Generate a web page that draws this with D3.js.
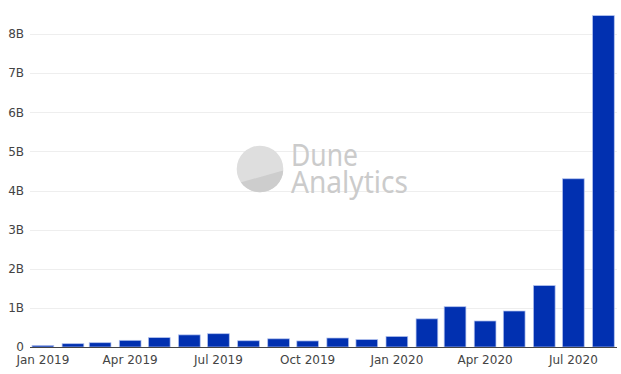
<!DOCTYPE html>
<html><head><meta charset="utf-8">
<script src="https://cdn.jsdelivr.net/npm/d3@7"></script>
<style>body{margin:0;background:#fff}svg{display:block}</style>
</head><body>
<svg id="c" width="621" height="374"></svg>
<script>
const months = ["2019-01","2019-02","2019-03","2019-04","2019-05","2019-06","2019-07","2019-08","2019-09","2019-10","2019-11","2019-12","2020-01","2020-02","2020-03","2020-04","2020-05","2020-06","2020-07","2020-08"];
const values = [0.04,0.085,0.11,0.17,0.24,0.31,0.34,0.16,0.21,0.155,0.23,0.19,0.27,0.72,1.03,0.665,0.92,1.57,4.3,8.47].map(v=>v*1e9);
const yTicks = [0,1e9,2e9,3e9,4e9,5e9,6e9,7e9,8e9];
const xTickLabels = ["2019-01","2019-04","2019-07","2019-10","2020-01","2020-04","2020-07"];

const svg = d3.select("#c");
const parse = d3.timeParse("%Y-%m");
const dates = months.map(parse);
const margin = {left:30, right:4, top:0, bottom:27};
const W = 621, H = 374;
const day = 864e5;
const x = d3.scaleTime()
  .domain([new Date(+dates[0] - 13.3*day), new Date(+dates[dates.length-1] + 14*day)])
  .range([margin.left, W - margin.right]);
const y = d3.scaleLinear().domain([0, 8e9]).range([347, 34]);
const barHalf = 0.8*28*day/2;
const font = "'DejaVu Sans', Verdana, sans-serif";
const wmFont = "'Noto Sans', 'Open Sans', sans-serif";

// grid
svg.append("g").selectAll("line").data(yTicks.filter(d=>d>0)).join("line")
  .attr("x1", margin.left).attr("x2", W - margin.right)
  .attr("y1", d=>Math.round(y(d))+0.5).attr("y2", d=>Math.round(y(d))+0.5)
  .attr("stroke", "#eeeeee").attr("stroke-width", 1);

// watermark
const wm = svg.append("g");
const cx = 260, cy = 169, r = 23.3;
wm.append("circle").attr("cx",cx).attr("cy",cy).attr("r",r).attr("fill","#dedede");
const clipId = "wmclip";
svg.append("defs").append("clipPath").attr("id",clipId).append("circle").attr("cx",cx).attr("cy",cy).attr("r",r);
wm.append("path").attr("clip-path",`url(#${clipId})`)
  .attr("d",`M${cx-r-2},${cy+15} L${cx+r+2},${cy+1} L${cx+r+2},${cy+r+2} L${cx-r-2},${cy+r+2} Z`)
  .attr("fill","#cdcdcd");
wm.append("text").attr("x",291).attr("y",166).attr("font-family",wmFont).attr("font-size",30)
  .attr("fill","#cbcbcb").attr("textLength",67).attr("lengthAdjust","spacingAndGlyphs").text("Dune");
wm.append("text").attr("x",291).attr("y",193).attr("font-family",wmFont).attr("font-size",30)
  .attr("fill","#cbcbcb").attr("textLength",117).attr("lengthAdjust","spacingAndGlyphs").text("Analytics");

// bars
svg.append("g").selectAll("rect").data(values).join("rect")
  .attr("x", (d,i)=>x(new Date(+dates[i]-barHalf)))
  .attr("width", (d,i)=>x(new Date(+dates[i]+barHalf)) - x(new Date(+dates[i]-barHalf)))
  .attr("y", d=>y(d))
  .attr("height", d=>y(0)-y(d))
  .attr("fill", "#0130b0")
  .attr("stroke", "rgba(180,195,240,0.9)")
  .attr("stroke-width", 0.8);

// zero line
svg.append("line").attr("x1", margin.left).attr("x2", W - margin.right)
  .attr("y1", 347.5).attr("y2", 347.5).attr("stroke","#444").attr("stroke-width",1);

// y axis labels
const fmtY = d => d===0 ? "0" : (d/1e9)+"B";
svg.append("g").selectAll("text").data(yTicks).join("text")
  .attr("x", 24).attr("y", d=>y(d)+4.3).attr("text-anchor","end")
  .attr("font-family",font).attr("font-size",12).attr("fill","#444").text(fmtY);

// x axis labels
const fmtX = d3.timeFormat("%b %Y");
svg.append("g").selectAll("text").data(xTickLabels.map(parse)).join("text")
  .attr("x", d=>x(d)).attr("y", 363.5).attr("text-anchor","middle")
  .attr("font-family",font).attr("font-size",12).attr("fill","#444").text(fmtX);
</script>
</body></html>
